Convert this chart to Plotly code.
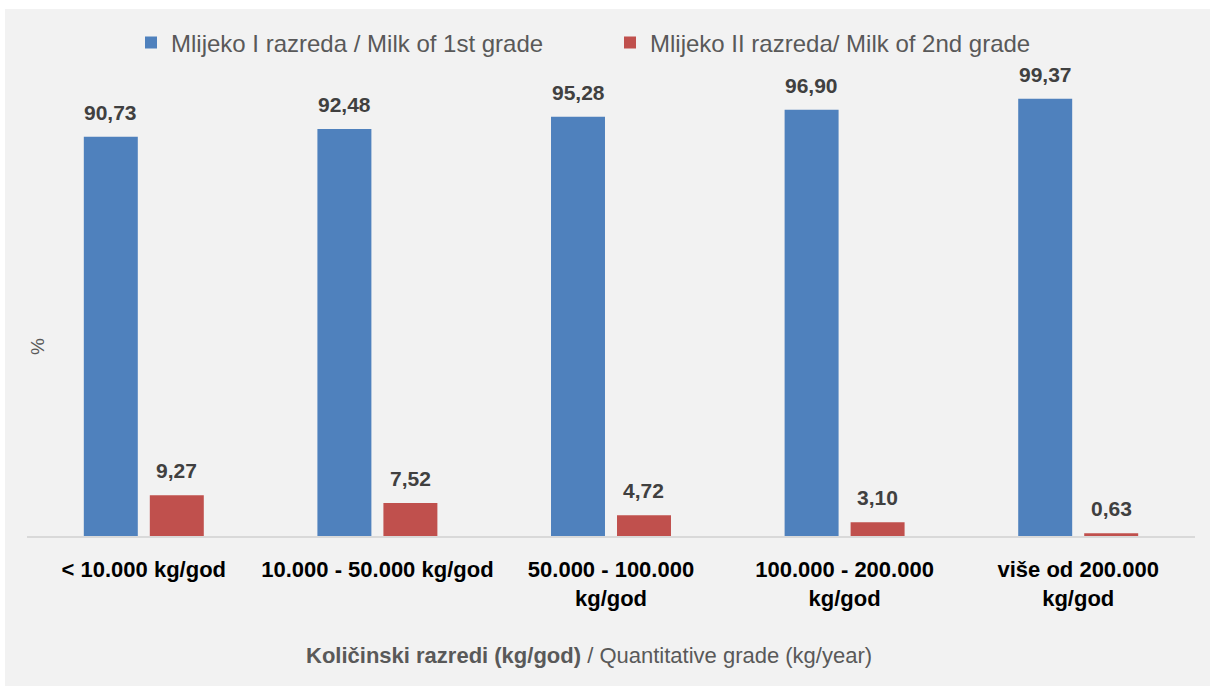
import plotly.graph_objects as go

categories = ["< 10.000 kg/god", "10.000 - 50.000 kg/god", "50.000 - 100.000<br>kg/god",
              "100.000 - 200.000<br>kg/god", "više od 200.000<br>kg/god"]
milk_1st = [90.73, 92.48, 95.28, 96.90, 99.37]
milk_2nd = [9.27, 7.52, 4.72, 3.10, 0.63]
series_names = ["Mlijeko I razreda / Milk of 1st grade", "Mlijeko II razreda/ Milk of 2nd grade"]
colors = ["#4f81bd", "#c0504d"]

W, H = 1210, 686
ML, MR, MT, MB = 27, 15, 96, 150
PW, PH = W - ML - MR, H - MT - MB
BARGAP, GROUPGAP = 0.435, 0.182

def fmt(v):
    return f"{v:.2f}".replace(".", ",")

SANS = "Liberation Sans, Arial, sans-serif"

fig = go.Figure()
for name, vals, col in zip(series_names, [milk_1st, milk_2nd], colors):
    fig.add_trace(go.Bar(
        x=categories, y=vals, name=name, marker=dict(color=col, line=dict(width=0)),
        cliponaxis=False,
    ))

def px_x(p):
    return (p - ML) / PW

def px_y(p):
    return (H - MB - p) / PH

# data labels placed above bars via axis coordinates
slot_px = PW / len(categories) * (1 - BARGAP) / 2
annotations = []
for vals, shift in [(milk_1st, -slot_px / 2), (milk_2nd, slot_px / 2)]:
    for c, v in zip(categories, vals):
        annotations.append(dict(x=c, y=v, xref="x", yref="y", text=f"<b>{fmt(v)}</b>",
                                showarrow=False, xanchor="center", yanchor="bottom",
                                xshift=shift, yshift=11,
                                font=dict(family=SANS, size=21, color="#404040")))

annotations += [
    dict(text="<b>Količinski razredi (kg/god)</b> / Quantitative grade (kg/year)",
         xref="paper", yref="paper", x=px_x(589), y=px_y(655), xanchor="center", yanchor="middle",
         showarrow=False, font=dict(family=SANS, size=22, color="#595959")),
    dict(text="%", xref="paper", yref="paper", x=px_x(37), y=px_y(347), textangle=-90,
         xanchor="center", yanchor="middle", showarrow=False,
         font=dict(family=SANS, size=19, color="#595959")),
]

fig.update_layout(
    width=W, height=H,
    margin=dict(l=ML, r=MR, t=MT, b=MB, autoexpand=False),
    paper_bgcolor="#f2f2f2", plot_bgcolor="#f2f2f2",
    barmode="group", bargap=BARGAP, bargroupgap=GROUPGAP,
    showlegend=True,
    legend=dict(orientation="h", x=px_x(131), xanchor="left", y=px_y(43), yanchor="middle",
                font=dict(family=SANS, size=24, color="#595959"),
                bgcolor="rgba(0,0,0,0)", itemwidth=30,
                traceorder="normal", entrywidth=434),
    xaxis=dict(showgrid=False, showline=True, linecolor="#d9d9d9", linewidth=2,
               ticks="", automargin=False, ticklabelstandoff=13,
               tickfont=dict(family=SANS, size=22, color="#000000"),
               tickprefix="<b>", ticksuffix="</b>"),
    yaxis=dict(range=[0, 100], visible=False, automargin=False),
    annotations=annotations,
    shapes=[
        dict(type="rect", xref="paper", yref="paper", x0=px_x(0), x1=px_x(W), y0=px_y(0), y1=px_y(9),
             fillcolor="white", line=dict(width=0), layer="above"),
        dict(type="rect", xref="paper", yref="paper", x0=px_x(0), x1=px_x(5), y0=px_y(0), y1=px_y(H),
             fillcolor="white", line=dict(width=0), layer="above"),
    ],
)

fig.write_html("out.html", config={"displayModeBar": False},
               post_script="document.body.style.margin='0';")
